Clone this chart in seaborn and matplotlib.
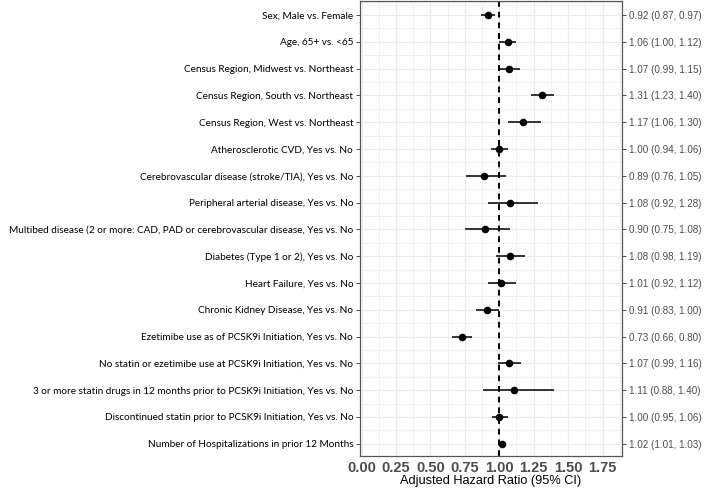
import matplotlib
matplotlib.use("Agg")
import matplotlib.pyplot as plt
import numpy as np
import pandas as pd
import seaborn as sns

labels = [
    "Sex, Male vs. Female",
    "Age, 65+ vs. <65",
    "Census Region, Midwest vs. Northeast",
    "Census Region, South vs. Northeast",
    "Census Region, West vs. Northeast",
    "Atherosclerotic CVD, Yes vs. No",
    "Cerebrovascular disease (stroke/TIA), Yes vs. No",
    "Peripheral arterial disease, Yes vs. No",
    "Multibed disease (2 or more: CAD, PAD or cerebrovascular disease, Yes vs. No",
    "Diabetes (Type 1 or 2), Yes vs. No",
    "Heart Failure, Yes vs. No",
    "Chronic Kidney Disease, Yes vs. No",
    "Ezetimibe use as of PCSK9i Initiation, Yes vs. No",
    "No statin or ezetimibe use at PCSK9i Initiation, Yes vs. No",
    "3 or more statin drugs in 12 months prior to PCSK9i Initiation, Yes vs. No",
    "Discontinued statin prior to PCSK9i Initiation, Yes vs. No",
    "Number of Hospitalizations in prior 12 Months",
]
hr = [0.92, 1.06, 1.07, 1.31, 1.17, 1.00, 0.89, 1.08, 0.90, 1.08, 1.01, 0.91, 0.73, 1.07, 1.11, 1.00, 1.02]
lower = [0.87, 1.00, 0.99, 1.23, 1.06, 0.94, 0.76, 0.92, 0.75, 0.98, 0.92, 0.83, 0.66, 0.99, 0.88, 0.95, 1.01]
upper = [0.97, 1.12, 1.15, 1.40, 1.30, 1.06, 1.05, 1.28, 1.08, 1.19, 1.12, 1.00, 0.80, 1.16, 1.40, 1.06, 1.03]
x_ticks = [0.00, 0.25, 0.50, 0.75, 1.00, 1.25, 1.50, 1.75]

df = pd.DataFrame({"label": labels, "hr": hr, "lo": lower, "hi": upper})
df["row"] = np.arange(len(df))
df["text"] = [f"{h:.2f} ({l:.2f}, {u:.2f})" for h, l, u in zip(hr, lower, upper)]

sns.set_style("white")
fig = plt.figure(figsize=(7.09, 4.88), dpi=100)
ax = fig.add_axes([0.508, 0.066, 0.369, 0.932])

n = len(df)
ax.set_xlim(-0.01, 1.89)
ax.set_ylim(n - 0.55, -0.52)

# grid
for v in np.arange(0, 1.9, 0.125):
    ax.axvline(v, color="#ebebeb", lw=0.9 if v % 0.25 == 0 else 0.5, zorder=0)
for r in np.arange(-0.5, n, 0.5):
    ax.axhline(r, color="#ebebeb", lw=0.9 if r % 1 == 0 else 0.5, zorder=0)

ax.axvline(1.0, color="black", lw=1.4, ls=(0, (3, 2.5)), zorder=1)
ax.hlines(df["row"], df["lo"], df["hi"], color="black", lw=1.1, zorder=2)
sns.scatterplot(data=df, x="hr", y="row", color="black", s=30, edgecolor="black",
                linewidth=0, zorder=3, ax=ax, legend=False)

ax.set_yticks(df["row"])
ax.set_yticklabels(df["label"], fontfamily="Lato", fontsize=7.2, color="black")
ax.set_xticks(x_ticks)
ax.set_xticklabels([f"{t:.2f}" for t in x_ticks], fontfamily="Liberation Sans",
                   fontsize=10.5, fontweight="bold", color="#4d4d4d")
ax.set_xlabel("Adjusted Hazard Ratio (95% CI)", fontfamily="Liberation Sans",
              fontsize=9.2, color="black", labelpad=0)
ax.set_ylabel("")
ax.tick_params(axis="both", length=3, width=0.6, color="#333333", pad=2)
ax.tick_params(axis="x", pad=1)

ax2 = ax.twinx()
ax2.set_ylim(ax.get_ylim())
ax2.set_yticks(df["row"])
ax2.set_yticklabels(df["text"], fontfamily="Liberation Sans", fontsize=7.1, color="#4d4d4d")
ax2.tick_params(axis="y", length=3, width=0.6, color="#333333", pad=2)

for a in (ax, ax2):
    for s in a.spines.values():
        s.set_color("#555555")
        s.set_linewidth(0.8)

fig.savefig("out.png", dpi=100)
